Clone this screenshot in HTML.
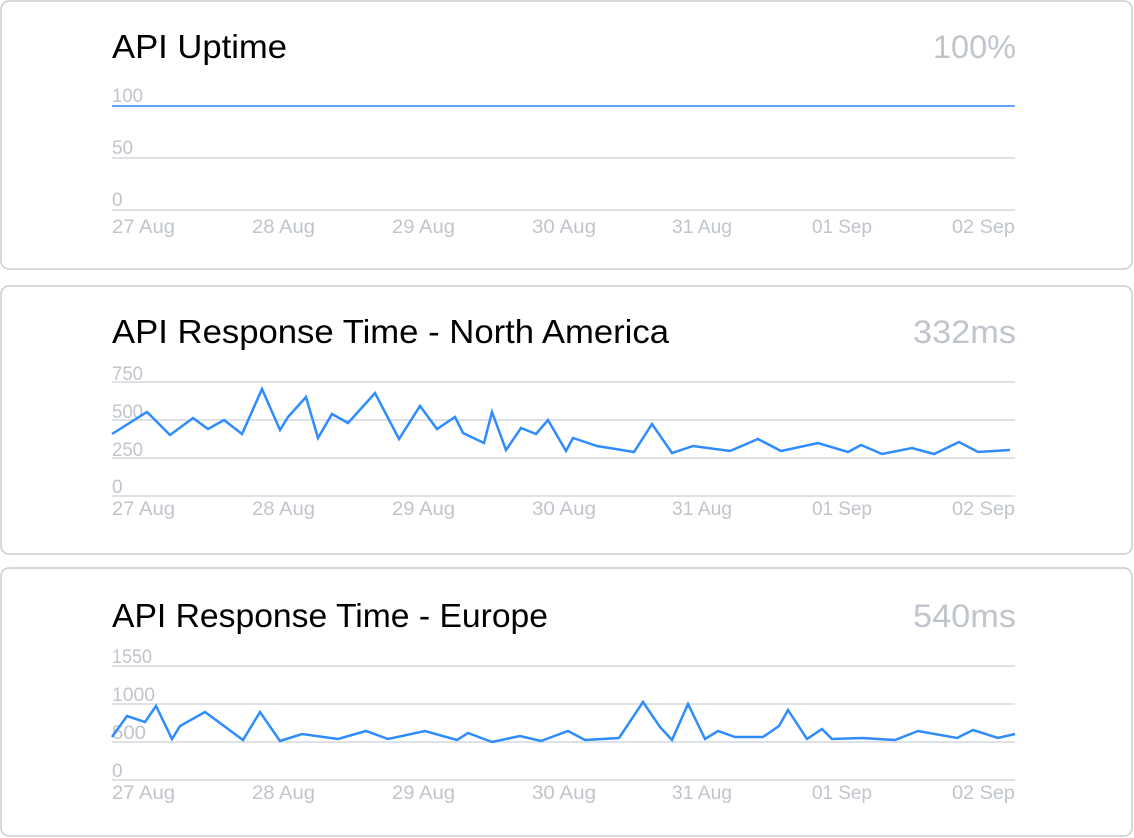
<!DOCTYPE html>
<html><head><meta charset="utf-8"><style>
html,body{margin:0;padding:0;background:#fff;}
svg{display:block;}
text{font-family:"Liberation Sans",Arial,sans-serif;}
.t{font-size:33px;fill:#000;}
.v{font-size:32px;fill:#c0c4cc;}
.k{font-size:19px;fill:#c0c4cc;}
.g{stroke:#d4d7de;stroke-width:1.5;}
.l{fill:none;stroke:#2f8cff;stroke-width:2.5;stroke-linejoin:miter;}
</style></head><body>
<svg width="1134" height="838" viewBox="0 0 1134 838">
<rect x="1" y="1" width="1131" height="268" rx="8" fill="#fff" stroke="#c8ccd4" stroke-width="1.5"/>
<rect x="1" y="286" width="1131" height="268" rx="8" fill="#fff" stroke="#c8ccd4" stroke-width="1.5"/>
<rect x="1" y="568" width="1131" height="268" rx="8" fill="#fff" stroke="#c8ccd4" stroke-width="1.5"/>

<text class="t" x="112" y="58" textLength="175" lengthAdjust="spacingAndGlyphs">API Uptime</text>
<text class="v" x="933" y="58" textLength="83" lengthAdjust="spacingAndGlyphs">100%</text>
<line class="g" x1="112" y1="158" x2="1015" y2="158"/>
<line class="g" x1="112" y1="210" x2="1015" y2="210"/>
<line x1="112" y1="106" x2="1015" y2="106" stroke="#2f8cff" stroke-width="1.5"/>
<text class="k" x="112" y="102" textLength="31" lengthAdjust="spacingAndGlyphs">100</text>
<text class="k" x="112" y="154" textLength="21" lengthAdjust="spacingAndGlyphs">50</text>
<text class="k" x="112" y="206">0</text>
<g class="k">
<text x="112" y="233" textLength="63" lengthAdjust="spacingAndGlyphs">27 Aug</text><text x="252" y="233" textLength="63" lengthAdjust="spacingAndGlyphs">28 Aug</text><text x="392" y="233" textLength="63" lengthAdjust="spacingAndGlyphs">29 Aug</text><text x="532" y="233" textLength="64" lengthAdjust="spacingAndGlyphs">30 Aug</text><text x="672" y="233" textLength="60" lengthAdjust="spacingAndGlyphs">31 Aug</text><text x="812" y="233" textLength="60" lengthAdjust="spacingAndGlyphs">01 Sep</text><text x="952" y="233" textLength="63" lengthAdjust="spacingAndGlyphs">02 Sep</text>
</g>

<text class="t" x="112" y="343" textLength="557" lengthAdjust="spacingAndGlyphs">API Response Time - North America</text>
<text class="v" x="913" y="343" textLength="103" lengthAdjust="spacingAndGlyphs">332ms</text>
<line class="g" x1="112" y1="382" x2="1015" y2="382"/>
<line class="g" x1="112" y1="420" x2="1015" y2="420"/>
<line class="g" x1="112" y1="458" x2="1015" y2="458"/>
<line class="g" x1="112" y1="496" x2="1015" y2="496"/>
<text class="k" x="112" y="380" textLength="31" lengthAdjust="spacingAndGlyphs">750</text>
<text class="k" x="112" y="418" textLength="31" lengthAdjust="spacingAndGlyphs">500</text>
<text class="k" x="112" y="456" textLength="31" lengthAdjust="spacingAndGlyphs">250</text>
<text class="k" x="112" y="493">0</text>
<g class="k">
<text x="112" y="515" textLength="63" lengthAdjust="spacingAndGlyphs">27 Aug</text><text x="252" y="515" textLength="63" lengthAdjust="spacingAndGlyphs">28 Aug</text><text x="392" y="515" textLength="63" lengthAdjust="spacingAndGlyphs">29 Aug</text><text x="532" y="515" textLength="64" lengthAdjust="spacingAndGlyphs">30 Aug</text><text x="672" y="515" textLength="60" lengthAdjust="spacingAndGlyphs">31 Aug</text><text x="812" y="515" textLength="60" lengthAdjust="spacingAndGlyphs">01 Sep</text><text x="952" y="515" textLength="63" lengthAdjust="spacingAndGlyphs">02 Sep</text>
</g>
<polyline class="l" points="112,434 147,412 170,435 193,418 208,429 224,420 242,434 262,389 280,430 288,417 306,397 318,438 332,414 348,423 375,393 399,439 420,406 437,429 455,417 463,433 484,443 492,412 506,450 521,428 536,434 548,420 566,451 573,438 597,446 634,452 652,424 672,453 693,446 730,451 758,439 781,451 818,443 848,452 861,445 882,454 912,448 934,454 959,442 978,452 1010,450"/>

<text class="t" x="112" y="627" textLength="436" lengthAdjust="spacingAndGlyphs">API Response Time - Europe</text>
<text class="v" x="913" y="627" textLength="103" lengthAdjust="spacingAndGlyphs">540ms</text>
<line class="g" x1="112" y1="666" x2="1015" y2="666"/>
<line class="g" x1="112" y1="704" x2="1015" y2="704"/>
<line class="g" x1="112" y1="742" x2="1015" y2="742"/>
<line class="g" x1="112" y1="780" x2="1015" y2="780"/>
<text class="k" x="112" y="663" textLength="40" lengthAdjust="spacingAndGlyphs">1550</text>
<text class="k" x="112" y="701" textLength="43" lengthAdjust="spacingAndGlyphs">1000</text>
<text class="k" x="112" y="739" textLength="34" lengthAdjust="spacingAndGlyphs">500</text>
<text class="k" x="112" y="777">0</text>
<g class="k">
<text x="112" y="799" textLength="63" lengthAdjust="spacingAndGlyphs">27 Aug</text><text x="252" y="799" textLength="63" lengthAdjust="spacingAndGlyphs">28 Aug</text><text x="392" y="799" textLength="63" lengthAdjust="spacingAndGlyphs">29 Aug</text><text x="532" y="799" textLength="64" lengthAdjust="spacingAndGlyphs">30 Aug</text><text x="672" y="799" textLength="60" lengthAdjust="spacingAndGlyphs">31 Aug</text><text x="812" y="799" textLength="60" lengthAdjust="spacingAndGlyphs">01 Sep</text><text x="952" y="799" textLength="63" lengthAdjust="spacingAndGlyphs">02 Sep</text>
</g>
<polyline class="l" points="112,737 127,716 145,722 156,706 172,739 180,726 205,712 243,740 260,712 280,741 302,734 338,739 366,731 388,739 425,731 457,740 468,733 492,742 520,736 541,741 568,731 585,740 619,738 643,702 660,727 672,740 688,704 705,739 718,731 735,737 763,737 779,726 788,710 807,739 822,729 832,739 862,738 895,740 918,731 957,738 973,730 998,738 1015,734"/>
</svg>
</body></html>
